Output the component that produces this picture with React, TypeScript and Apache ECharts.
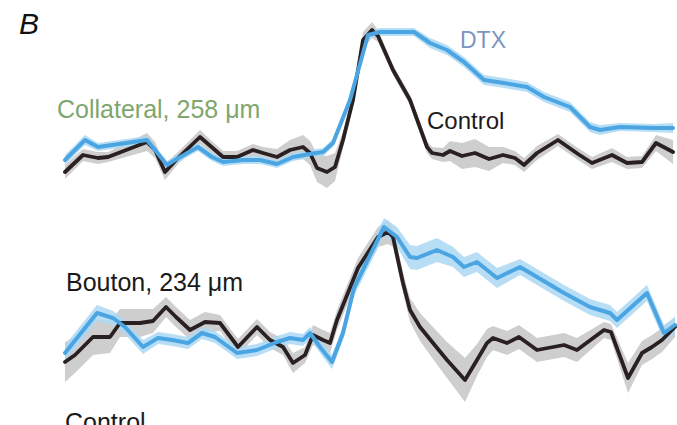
import React, { useEffect, useRef } from "react";
import * as echarts from "echarts";

// Top panel (Collateral, 258 µm): time (a.u.) and amplitude (a.u.)
const colCtrlT = [2, 20, 35, 45, 84, 92, 102, 115, 137, 152, 160, 174, 190, 200, 214, 227, 240, 247, 254, 264, 272, 280, 290, 300, 309, 315, 330, 347, 364, 369, 380, 387, 399, 412, 426, 440, 452, 461, 474, 495, 515, 529, 549, 564, 579, 593, 610];
const colCtrlV = [8, 25, 22, 23, 38, 30, 8, 22, 43, 30, 23, 23, 30, 27, 23, 30, 33, 27, 12, 8, 13, 40, 80, 140, 150, 144, 110, 80, 33, 27, 25, 29, 24, 27, 21, 25, 22, 15, 27, 40, 26, 17, 25, 17, 18, 37, 28];
const colCtrlSem = [7, 6, 6, 5, 9, 8, 8, 6, 7, 6, 6, 6, 6, 6, 8, 10, 12, 12, 14, 16, 14, 8, 6, 8, 8, 6, 5, 5, 6, 6, 7, 10, 13, 14, 12, 8, 7, 7, 7, 6, 6, 6, 7, 6, 6, 8, 12];

const colDtxT = [2, 22, 35, 84, 92, 104, 112, 135, 149, 160, 180, 197, 214, 230, 247, 260, 270, 287, 305, 317, 351, 367, 384, 401, 421, 441, 464, 481, 507, 527, 537, 557, 591, 610];
const colDtxV = [20, 40, 33, 40, 30, 15, 20, 33, 23, 18, 20, 20, 16, 23, 26, 28, 37, 80, 145, 148, 148, 137, 130, 118, 100, 97, 93, 83, 73, 53, 50, 53, 52, 52];
const colDtxSem = [5, 5, 4, 4, 4, 4, 4, 4, 4, 4, 4, 4, 4, 4, 4, 4, 4, 4, 4, 4, 4, 5, 5, 5, 5, 5, 5, 5, 5, 5, 5, 4, 4, 5];

// Bottom panel (Bouton, 234 µm)
const boutCtrlT = [2, 12, 30, 47, 57, 77, 90, 103, 113, 127, 142, 157, 175, 194, 207, 220, 230, 242, 250, 260, 267, 274, 295, 315, 325, 330, 340, 347, 357, 370, 384, 402, 414, 424, 430, 444, 456, 474, 501, 514, 541, 548, 565, 579, 589, 599, 612];
const boutCtrlV = [18, 25, 43, 43, 57, 57, 59, 73, 63, 50, 58, 57, 33, 53, 40, 33, 17, 25, 45, 40, 37, 60, 112, 143, 148, 143, 97, 70, 53, 37, 20, 0, 20, 37, 42, 37, 43, 30, 35, 30, 50, 48, 2, 27, 33, 40, 53];
const boutCtrlSem = [20, 18, 18, 16, 14, 14, 12, 10, 10, 10, 10, 8, 8, 8, 8, 8, 10, 8, 10, 10, 10, 10, 10, 10, 12, 10, 10, 12, 14, 16, 18, 22, 16, 14, 12, 12, 12, 12, 12, 12, 8, 8, 15, 12, 12, 12, 10];

const boutDtxT = [2, 34, 50, 62, 80, 95, 109, 125, 139, 152, 174, 194, 214, 227, 240, 247, 257, 269, 280, 291, 321, 334, 347, 354, 374, 390, 401, 414, 434, 457, 474, 501, 527, 547, 554, 584, 601, 612];
const boutDtxV = [27, 67, 62, 53, 33, 42, 40, 37, 47, 43, 27, 30, 38, 42, 40, 47, 33, 18, 47, 92, 153, 143, 123, 122, 130, 123, 113, 118, 102, 113, 103, 87, 73, 67, 60, 87, 47, 55];
const boutDtxSem = [8, 8, 7, 7, 7, 6, 6, 6, 6, 6, 6, 6, 6, 6, 6, 6, 6, 7, 7, 8, 9, 10, 12, 12, 12, 10, 10, 10, 10, 8, 8, 8, 8, 8, 8, 8, 8, 8];

const labels = {
  panel: "B",
  top: "Collateral, 258 μm",
  bottom: "Bouton, 234 μm",
  dtx: "DTX",
  control: "Control",
};

const CTRL_LINE = "#2a2022";
const CTRL_BAND = "#c6c6c6";
const DTX_LINE = "#4aa5e2";
const DTX_BAND = "#acd8f4";
const FONT = "Liberation Sans, Arial, sans-serif";

function pairs(t: number[], v: number[]) {
  return t.map((x, i) => [x, v[i]]);
}

function band(t: number[], v: number[], s: number[], color: string, gi: number, z: number) {
  return {
    type: "custom",
    xAxisIndex: gi,
    yAxisIndex: gi,
    z,
    silent: true,
    clip: true,
    data: [[0, 0]],
    renderItem: (_p: any, api: any) => {
      const upper = t.map((x, i) => api.coord([x, v[i] + s[i]]));
      const lower = t.map((x, i) => api.coord([x, v[i] - s[i]])).reverse();
      return {
        type: "polygon",
        shape: { points: upper.concat(lower) },
        style: { fill: color, opacity: 0.85 },
      };
    },
  };
}

function line(t: number[], v: number[], color: string, width: number, gi: number, z: number) {
  return {
    type: "line",
    xAxisIndex: gi,
    yAxisIndex: gi,
    z,
    data: pairs(t, v),
    showSymbol: false,
    symbol: "none",
    lineStyle: { color, width, join: "round", cap: "round" },
    silent: true,
  };
}

export default function App() {
  const ref = useRef<HTMLDivElement>(null);
  useEffect(() => {
    if (!ref.current) return;
    const chart = echarts.init(ref.current, null, { renderer: "svg" });
    const xAx = (gi: number) => ({
      type: "value",
      gridIndex: gi,
      min: 0,
      max: 612,
      show: false,
    });
    chart.setOption({
      animation: false,
      backgroundColor: "#ffffff",
      grid: [
        { left: 63, right: 2, top: 20, height: 180 },
        { left: 63, right: 2, top: 200, height: 225 },
      ],
      xAxis: [xAx(0), xAx(1)],
      yAxis: [
        { type: "value", gridIndex: 0, min: -20, max: 160, show: false },
        { type: "value", gridIndex: 1, min: -45, max: 180, show: false },
      ],
      series: [
        band(colCtrlT, colCtrlV, colCtrlSem, CTRL_BAND, 0, 1),
        band(colDtxT, colDtxV, colDtxSem, DTX_BAND, 0, 2),
        line(colCtrlT, colCtrlV, CTRL_LINE, 3.8, 0, 3),
        line(colDtxT, colDtxV, DTX_LINE, 4, 0, 4),
        band(boutCtrlT, boutCtrlV, boutCtrlSem, CTRL_BAND, 1, 1),
        band(boutDtxT, boutDtxV, boutDtxSem, DTX_BAND, 1, 2),
        line(boutCtrlT, boutCtrlV, CTRL_LINE, 3.8, 1, 3),
        line(boutDtxT, boutDtxV, DTX_LINE, 4, 1, 4),
      ],
      graphic: [
        {
          type: "text",
          x: 19,
          y: 23,
          style: { text: labels.panel, font: `italic 30px ${FONT}`, fill: "#111", verticalAlign: "middle" },
        },
        {
          type: "text",
          x: 57,
          y: 109,
          style: { text: labels.top, font: `25px ${FONT}`, fill: "#7ea66d", verticalAlign: "middle" },
        },
        {
          type: "text",
          x: 460,
          y: 40,
          style: { text: labels.dtx, font: `23px ${FONT}`, fill: "#7b95c0", verticalAlign: "middle" },
        },
        {
          type: "text",
          x: 427,
          y: 120,
          style: { text: labels.control, font: `24px ${FONT}`, fill: "#1e1a1a", verticalAlign: "middle" },
        },
        {
          type: "text",
          x: 66,
          y: 282,
          style: { text: labels.bottom, font: `25px ${FONT}`, fill: "#1a1a1a", verticalAlign: "middle" },
        },
        {
          type: "text",
          x: 65,
          y: 422,
          style: { text: labels.control, font: `25px ${FONT}`, fill: "#1a1a1a", verticalAlign: "middle" },
        },
      ],
    });
    return () => chart.dispose();
  }, []);
  return <div ref={ref} style={{ width: 677, height: 425, position: "absolute", left: 0, top: 0 }} />;
}
